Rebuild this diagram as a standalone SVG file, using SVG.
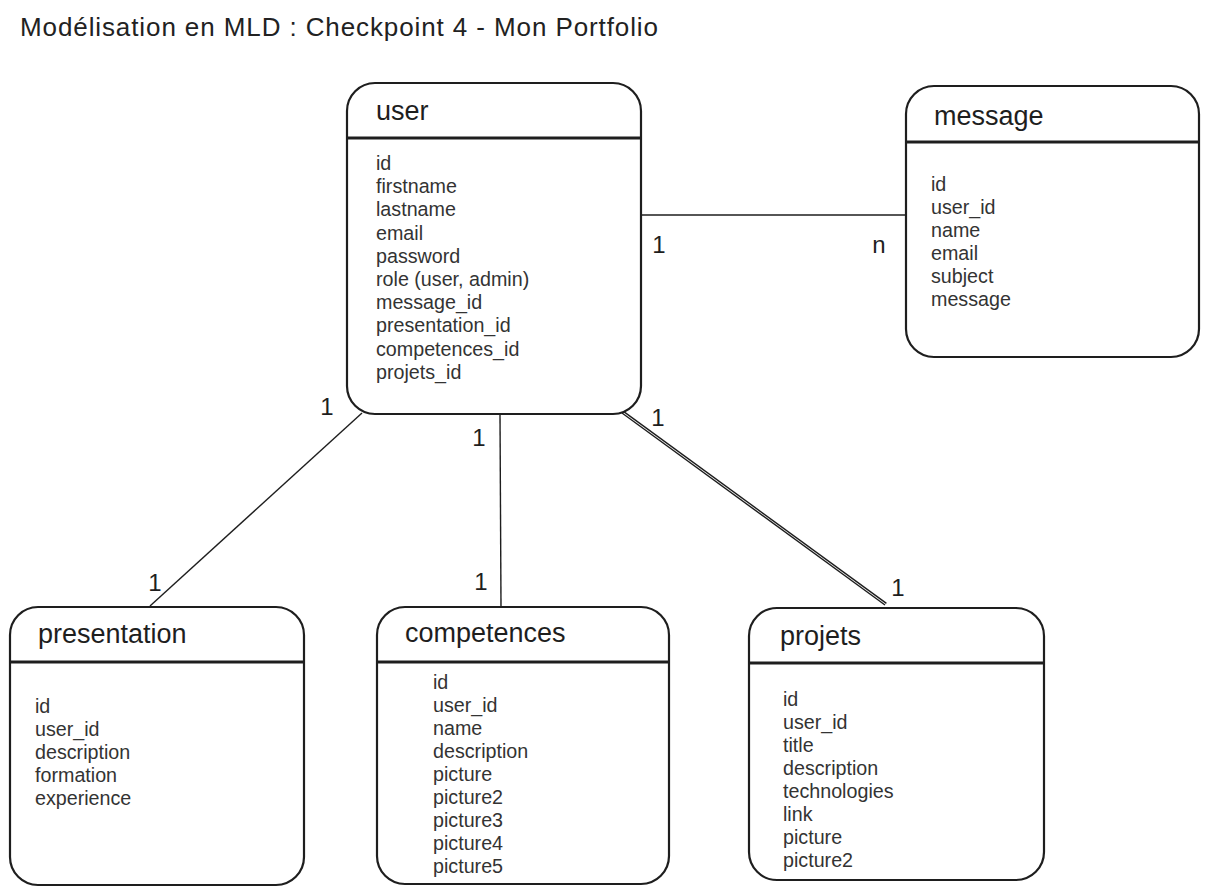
<svg xmlns="http://www.w3.org/2000/svg" width="1211" height="894" viewBox="0 0 1211 894">
<style>
.box{fill:#fff;stroke:#1e1e1e;stroke-width:2.2}
.sep{stroke:#1e1e1e;stroke-width:3}
.ttl{font-family:"Liberation Sans",Arial,sans-serif;font-size:27px;fill:#1e1e1e}
.fld{font-family:"Liberation Sans",Arial,sans-serif;font-size:19.7px;fill:#333}
.lbl{font-family:"Liberation Sans",Arial,sans-serif;font-size:24px;fill:#1e1e1e;text-anchor:middle}
.con{stroke:#1e1e1e;stroke-width:1.4;fill:none}
.head{font-family:"Liberation Sans",Arial,sans-serif;font-size:26px;fill:#222}
</style>
<rect width="1211" height="894" fill="#fff"/>
<text class="head" x="20" y="36" textLength="638" lengthAdjust="spacing">Modélisation en MLD : Checkpoint 4 - Mon Portfolio</text>

<g id="connectors">
  <line class="con" x1="641" y1="215" x2="905" y2="215"/>
  <line class="con" x1="362" y1="413" x2="150" y2="606"/>
  <line class="con" x1="500" y1="415" x2="501" y2="606"/>
  <line class="con" x1="622" y1="413" x2="885" y2="605"/>
  <line class="con" x1="623.4" y1="411.4" x2="886.4" y2="603.4"/>
  <text class="lbl" x="659" y="253">1</text>
  <text class="lbl" x="879" y="253">n</text>
  <text class="lbl" x="327" y="415">1</text>
  <text class="lbl" x="155" y="591">1</text>
  <text class="lbl" x="479" y="446">1</text>
  <text class="lbl" x="481" y="590">1</text>
  <text class="lbl" x="658" y="426">1</text>
  <text class="lbl" x="898" y="596">1</text>
</g>

<g id="user">
  <rect class="box" x="347" y="83" width="294" height="331" rx="28"/>
  <line class="sep" x1="347" y1="138" x2="641" y2="138"/>
  <text class="ttl" x="376" y="120">user</text>
  <text class="fld" x="376" y="170">id</text>
  <text class="fld" x="376" y="193.2">firstname</text>
  <text class="fld" x="376" y="216.4">lastname</text>
  <text class="fld" x="376" y="239.6">email</text>
  <text class="fld" x="376" y="262.8">password</text>
  <text class="fld" x="376" y="286">role (user, admin)</text>
  <text class="fld" x="376" y="309.2">message_id</text>
  <text class="fld" x="376" y="332.4">presentation_id</text>
  <text class="fld" x="376" y="355.6">competences_id</text>
  <text class="fld" x="376" y="378.8">projets_id</text>
</g>

<g id="message">
  <rect class="box" x="906" y="86" width="293" height="271" rx="28"/>
  <line class="sep" x1="906" y1="142" x2="1200" y2="142"/>
  <text class="ttl" x="934" y="125">message</text>
  <text class="fld" x="931" y="191">id</text>
  <text class="fld" x="931" y="214">user_id</text>
  <text class="fld" x="931" y="237">name</text>
  <text class="fld" x="931" y="260">email</text>
  <text class="fld" x="931" y="283">subject</text>
  <text class="fld" x="931" y="306">message</text>
</g>

<g id="presentation">
  <rect class="box" x="10" y="607" width="294" height="278" rx="28"/>
  <line class="sep" x1="10" y1="662" x2="304" y2="662"/>
  <text class="ttl" x="38" y="643">presentation</text>
  <text class="fld" x="35" y="713">id</text>
  <text class="fld" x="35" y="736">user_id</text>
  <text class="fld" x="35" y="759">description</text>
  <text class="fld" x="35" y="782">formation</text>
  <text class="fld" x="35" y="805">experience</text>
</g>

<g id="competences">
  <rect class="box" x="377" y="607" width="292" height="277" rx="28"/>
  <line class="sep" x1="377" y1="662" x2="669" y2="662"/>
  <text class="ttl" x="405" y="642">competences</text>
  <text class="fld" x="433" y="689">id</text>
  <text class="fld" x="433" y="712">user_id</text>
  <text class="fld" x="433" y="735">name</text>
  <text class="fld" x="433" y="758">description</text>
  <text class="fld" x="433" y="781">picture</text>
  <text class="fld" x="433" y="804">picture2</text>
  <text class="fld" x="433" y="827">picture3</text>
  <text class="fld" x="433" y="850">picture4</text>
  <text class="fld" x="433" y="873">picture5</text>
</g>

<g id="projets">
  <rect class="box" x="749" y="608" width="295" height="272" rx="28"/>
  <line class="sep" x1="749" y1="663" x2="1044" y2="663"/>
  <text class="ttl" x="780" y="645">projets</text>
  <text class="fld" x="783" y="706">id</text>
  <text class="fld" x="783" y="729">user_id</text>
  <text class="fld" x="783" y="752">title</text>
  <text class="fld" x="783" y="775">description</text>
  <text class="fld" x="783" y="798">technologies</text>
  <text class="fld" x="783" y="821">link</text>
  <text class="fld" x="783" y="844">picture</text>
  <text class="fld" x="783" y="867">picture2</text>
</g>
</svg>
